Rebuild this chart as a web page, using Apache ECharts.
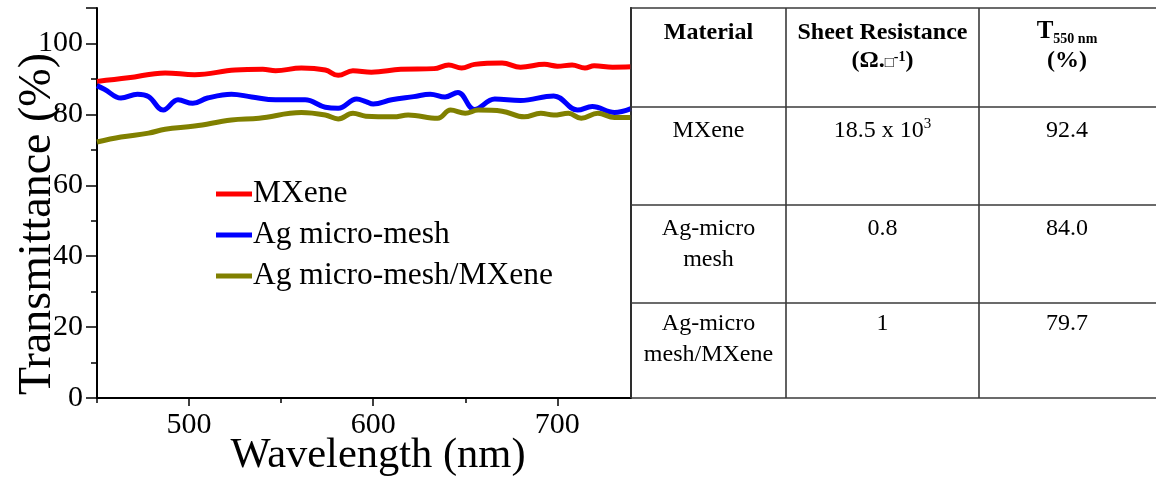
<!DOCTYPE html>
<html><head><meta charset="utf-8">
<script src="https://cdn.jsdelivr.net/npm/echarts@6/dist/echarts.min.js"></script>
<style>html,body{margin:0;padding:0;background:#fff}#c{width:1156px;height:477px}</style>
</head><body><div id="c"></div>
<script>
const seriesNames = ['MXene', 'Ag micro-mesh', 'Ag micro-mesh/MXene'];
const mxeneWl = [450,467,487,503,525,540,547,561,574,581,589,599,615,633,641,648,655,670,680,693,700,708,715,720,730,740];
const mxeneT  = [89.3,90.3,91.7,91.2,92.5,92.7,92.3,93.1,92.5,91.0,92.3,91.9,92.7,92.9,93.9,93.1,94.1,94.5,93.3,94.1,93.6,93.9,93.1,93.7,93.3,93.4];
const meshWl = [450,454,463,472,478,486,494,502,510,523,534,547,563,574,581,591,596,600,610,622,631,639,646,655,666,680,698,711,719,731,740];
const meshT  = [88.1,87.1,84.6,85.7,85.0,81.2,84.1,83.1,84.6,85.7,84.9,84.1,84.1,82.0,81.7,84.3,83.6,82.9,84.1,85.0,85.7,84.9,86.2,81.4,84.3,83.9,85.2,81.2,82.2,80.5,81.6];
const hybridWl = [450,463,478,487,503,523,538,561,574,581,589,596,611,619,635,642,650,657,670,682,691,698,706,713,722,731,740];
const hybridT  = [72.2,73.6,74.7,75.8,76.7,78.4,78.9,80.5,79.8,78.7,80.3,79.5,79.3,79.8,78.9,81.2,80.3,81.2,80.9,79.3,80.3,79.8,80.3,78.9,80.3,79.1,79.1];
const xTickLabels = [500, 600, 700];
const xMinorTicks = [450, 550, 650];
const yTickLabels = [0, 20, 40, 60, 80, 100];

const tableHeader = ['Material', 'Sheet Resistance', 'T'];
const tableHeaderSub = '550 nm';
const tableHeaderUnit = ['(Ω.', '□', '-1', ')'];
const tableHeaderPct = '(%)';
const tableMaterials = [['MXene'], ['Ag-micro', 'mesh'], ['Ag-micro', 'mesh/MXene']];
const tableResistance = [['18.5 x 10', '3'], ['0.8', ''], ['1', '']];
const tableT550 = ['92.4', '84.0', '79.7'];

const colors = ['#ff0000', '#0000ff', '#808000'];
const pair = (a, b) => a.map((v, i) => [v, b[i]]);
const FONT = '"Liberation Serif", "Times New Roman", serif';

const chart = echarts.init(document.getElementById('c'));

const mctx = document.createElement('canvas').getContext('2d');
const fontStr = (size, bold) => (bold ? 'bold ' : '') + size + 'px ' + FONT;
const measure = (t, size, bold) => { mctx.font = fontStr(size, bold); return mctx.measureText(t).width; };

// table geometry
const colX = [631, 786, 979, 1158];
const rowY = [8, 107, 205, 303, 398];
const graphics = [];
const ln = (x1, y1, x2, y2) => graphics.push({type: 'line', shape: {x1, y1, x2, y2}, style: {stroke: '#3a3a3a', lineWidth: 1.6}, z: 10});
rowY.forEach(y => ln(colX[0], y, colX[3], y));
colX.slice(0, 3).forEach(x => ln(x, rowY[0], x, rowY[4]));
// place text by (approximately) its alphabetic baseline
const put = (text, x, base, size, bold, align) => graphics.push({type: 'text', x, y: base - 0.17 * size, z: 11, style: {text, font: fontStr(size, bold), fill: '#000', textAlign: align || 'center', textVerticalAlign: 'middle'}});
const composite = (pieces, cxPos) => {
  const ws = pieces.map(p => measure(p[0], p[1], p[2]));
  let x = cxPos - ws.reduce((a, b) => a + b, 0) / 2;
  pieces.forEach((p, i) => { put(p[0], x, p[3], p[1], p[2], 'left'); x += ws[i]; });
};
const cx = [708.5, 882.5, 1067];
put(tableHeader[0], cx[0], 37, 24, true);
put(tableHeader[1], cx[1], 37, 24, true);
composite([[tableHeaderUnit[0], 24, true, 65], [tableHeaderUnit[1], 15, false, 66], [tableHeaderUnit[2], 14, true, 60], [tableHeaderUnit[3], 24, true, 65]], cx[1]);
composite([[tableHeader[2], 25, true, 36], [tableHeaderSub, 14, true, 42]], cx[2]);
put(tableHeaderPct, cx[2], 65, 24, true);
const firstBase = [135, 233, 328];
for (let r = 0; r < 3; r++) {
  tableMaterials[r].forEach((t, k) => put(t, cx[0], firstBase[r] + k * 31, 24, false));
  if (tableResistance[r][1]) {
    composite([[tableResistance[r][0], 24, false, firstBase[r]], [tableResistance[r][1], 15, false, firstBase[r] - 8]], cx[1]);
  } else {
    put(tableResistance[r][0], cx[1], firstBase[r], 24, false);
  }
  put(tableT550[r], cx[2], firstBase[r], 24, false);
}

const mkSeries = (name, data, color) => ({
  name, type: 'line', data, smooth: 0.4, showSymbol: false, symbol: 'none',
  lineStyle: {color, width: 5}, itemStyle: {color}, z: 3
});
const plainAxis = {axisLine: {show: true, lineStyle: {color: '#000', width: 2}}, axisTick: {show: false}, axisLabel: {show: false}, splitLine: {show: false}};

chart.setOption({
  animation: false,
  backgroundColor: '#fff',
  textStyle: {fontFamily: FONT},
  grid: {left: 97, top: 8, width: 534, height: 390, containLabel: false, outerBoundsMode: 'none'},
  legend: {
    orient: 'vertical', left: 216, top: 178, itemGap: 9, padding: 0,
    icon: 'rect', itemWidth: 36, itemHeight: 5,
    textStyle: {fontFamily: FONT, fontSize: 31.5, color: '#000', lineHeight: 32, padding: [0, 0, 0, -4]},
    data: seriesNames
  },
  xAxis: [{
    type: 'value', min: 450, max: 740, interval: 50, position: 'bottom',
    name: 'Wavelength (nm)', nameLocation: 'middle', nameGap: 36, nameMoveOverlap: false,
    nameTextStyle: {fontFamily: FONT, fontSize: 42.5, color: '#000', padding: [0, 0, 0, 28]},
    axisLine: {show: true, lineStyle: {color: '#000', width: 2}},
    axisTick: {show: true, inside: false, length: 8, customValues: xTickLabels, lineStyle: {color: '#000', width: 1.5}},
    axisLabel: {fontFamily: FONT, fontSize: 30, color: '#000', margin: 12,
      formatter: v => xTickLabels.includes(v) ? String(v) : ''},
    splitLine: {show: false}
  }, Object.assign({type: 'value', min: 450, max: 740, position: 'top'}, plainAxis),
  {
    type: 'value', min: 450, max: 740, interval: 50, position: 'bottom', offset: 0,
    axisLine: {show: false},
    axisTick: {show: true, inside: false, length: 5, customValues: xMinorTicks, lineStyle: {color: '#000', width: 1.5}},
    axisLabel: {show: false}, splitLine: {show: false}
  }],
  yAxis: [{
    type: 'value', min: 0, max: 110, interval: 20, position: 'left',
    name: 'Transmittance (%)', nameLocation: 'middle', nameGap: 36, nameRotate: 90, nameMoveOverlap: false,
    nameTextStyle: {fontFamily: FONT, fontSize: 46, color: '#000', padding: [0, 42, 0, 0]},
    axisLine: {show: true, lineStyle: {color: '#000', width: 2}},
    axisTick: {show: true, inside: false, length: 11, lineStyle: {color: '#000', width: 1.5}},
    minorTick: {show: true, splitNumber: 2, length: 6, lineStyle: {color: '#000', width: 1.5}},
    axisLabel: {fontFamily: FONT, fontSize: 30, color: '#000', margin: 14,
      formatter: v => yTickLabels.includes(v) ? String(v) : ''},
    splitLine: {show: false}
  }, Object.assign({type: 'value', min: 0, max: 110, position: 'right'}, plainAxis)],
  series: [
    mkSeries(seriesNames[0], pair(mxeneWl, mxeneT), colors[0]),
    mkSeries(seriesNames[1], pair(meshWl, meshT), colors[1]),
    mkSeries(seriesNames[2], pair(hybridWl, hybridT), colors[2])
  ],
  graphic: graphics
});
</script></body></html>
